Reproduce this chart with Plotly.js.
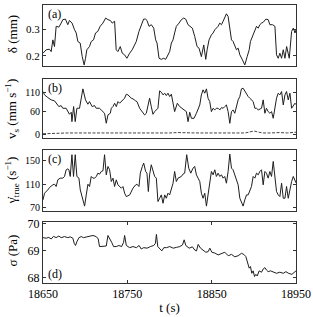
<!DOCTYPE html>
<html>
<head>
<meta charset="utf-8">
<script src="https://cdn.plot.ly/plotly-3.0.1.min.js"></script>
<style>html,body{margin:0;padding:0;background:#fff;}#chart{width:313px;height:317px;}</style>
</head>
<body>
<div id="chart"></div>
<script>
// (a) delta (mm)
const deltaT = [18650,18653.8,18657.7,18659.7,18661.7,18663.6,18665.6,18668.8,18671.5,18673.5,18676.6,18679.4,18681.4,18684.5,18687.4,18689.4,18691.3,18694.1,18696.5,18698.8,18700.4,18702.0,18705.1,18707.2,18709.9,18712.3,18715.0,18717.8,18721.0,18724.3,18727.0,18729.8,18732.1,18734.9,18736.8,18738.8,18741.6,18744.0,18746.7,18749.5,18752.7,18755.8,18758.6,18760.6,18763.8,18766.5,18769.3,18771.7,18773.3,18775.7,18778.5,18781.3,18783.6,18785.2,18787.6,18790.3,18793.1,18795.5,18798.2,18800.2,18802.2,18804.2,18806.1,18808.1,18811.3,18814.1,18816.9,18819.2,18822.0,18824.0,18827.1,18829.9,18832.7,18835.0,18837.8,18840.6,18843.0,18844.6,18846.9,18849.7,18851.7,18853.7,18855.6,18857.6,18859.6,18861.6,18863.6,18865.5,18867.5,18869.5,18871.5,18873.5,18875.4,18877.4,18879.4,18881.4,18883.4,18886.5,18889.3,18892.1,18894.5,18896.0,18898.4,18901.2,18903.2,18905.2,18907.1,18909.1,18911.1,18914.3,18917.0,18919.0,18922.2,18925.0,18926.9,18928.9,18930.9,18932.9,18934.9,18936.9,18938.9,18942.0,18944.8,18946.8,18948.8,18950];
const deltaV = [0.21,0.223,0.225,0.216,0.26,0.235,0.311,0.308,0.323,0.336,0.338,0.317,0.333,0.323,0.298,0.286,0.254,0.248,0.197,0.166,0.191,0.223,0.235,0.254,0.26,0.286,0.292,0.311,0.323,0.342,0.336,0.333,0.323,0.33,0.223,0.216,0.235,0.21,0.204,0.191,0.21,0.223,0.241,0.254,0.292,0.317,0.338,0.338,0.333,0.311,0.317,0.304,0.26,0.248,0.191,0.187,0.191,0.187,0.204,0.216,0.248,0.26,0.286,0.311,0.323,0.336,0.342,0.338,0.317,0.311,0.304,0.273,0.235,0.229,0.197,0.241,0.187,0.223,0.26,0.279,0.286,0.298,0.304,0.311,0.323,0.317,0.33,0.342,0.358,0.348,0.311,0.26,0.254,0.241,0.223,0.229,0.204,0.185,0.166,0.197,0.223,0.254,0.273,0.292,0.311,0.304,0.317,0.323,0.326,0.338,0.336,0.317,0.317,0.311,0.204,0.191,0.21,0.191,0.223,0.191,0.235,0.191,0.292,0.304,0.286,0.298];

// (b) v_s (mm/s)
const vsT = [18650,18651.8,18655.7,18659.7,18663.7,18665.6,18668.8,18671.5,18673.5,18677.4,18679.4,18681.4,18683.5,18684.3,18686.3,18688.2,18690.2,18693.3,18697.3,18700.4,18703.2,18705.1,18708.3,18711.1,18713.1,18717.0,18719.0,18723.0,18725.0,18727.0,18729.8,18731.0,18732.9,18734.9,18736.9,18738.9,18740.8,18742.8,18746.7,18748.8,18750.7,18754.7,18756.7,18759.9,18761.4,18764.6,18768.5,18770.5,18772.5,18774.5,18776.4,18778.4,18780.4,18782.4,18786.3,18788.3,18790.3,18792.3,18794.3,18796.2,18798.2,18800.2,18802.2,18806.1,18809.3,18812.1,18814.9,18818.0,18820.0,18822.0,18824.0,18826.0,18829.1,18831.9,18833.9,18835.9,18837.8,18839.8,18841.8,18843.8,18845.7,18847.7,18849.7,18851.7,18853.7,18855.6,18857.6,18859.6,18861.6,18863.6,18865.5,18867.5,18869.5,18871.5,18873.5,18875.4,18877.4,18879.4,18881.4,18883.4,18885.3,18887.3,18889.3,18891.3,18893.3,18895.2,18899.2,18901.2,18903.2,18905.2,18909.1,18911.1,18913.1,18915.0,18917.0,18919.0,18921.0,18923.0,18924.9,18926.9,18928.9,18930.9,18932.9,18934.9,18936.9,18938.8,18940.8,18942.8,18944.8,18946.8,18948.8,18950];
const vsV = [111.7,103.1,96.2,90.2,87.6,81.6,72.9,75.5,68.6,68.6,60,53.1,58.3,34.1,72.9,34.1,68.6,68.6,118.6,90.2,79,85.9,72.9,75.5,68.6,68.6,64.3,55.7,30,51.4,55.7,68.6,72.9,81.6,72.9,85.9,81.6,85.9,94.5,104.8,103.1,94.5,92.8,87.6,85.9,68.6,58.3,51.4,55.7,72.9,94.5,72.9,53.1,60,68.6,113.4,110,103.1,107.4,101.4,107.4,98.8,104.8,60,81.6,72.9,68.6,64.3,60,34.1,58.3,42.8,42.8,55.7,68.6,77.2,103.1,116,107.4,118.6,94.5,85.9,60,68.6,64.3,68.6,68.6,64.3,70.3,68.6,72.9,77.2,60,29.8,60,64.3,55.7,77.2,90.2,98.8,118.6,120.3,111.7,103.1,98.8,94.5,85.9,68.6,68.6,64.3,68.6,90.2,55.7,68.6,60,55.7,60,42.8,68.6,94.5,107.4,103.1,111.7,77.2,103.1,111.7,90.2,107.4,68.6,77.2,81.6,78];
// (b) dashed near-zero series
const vbT = [18650,18660,18670,18680,18690,18700,18710,18720,18730,18740,18750,18760,18770,18780,18790,18800,18810,18820,18830,18840,18850,18860,18870,18880,18890,18900,18910,18920,18930,18940,18950];
const vbV = [3,4,5,5,5,5,5,4,5,5,5,5,5,5,5,5,6,5,5,5,5,5,6,5,5,10,5,5,6,5,7];

// (c) gamma_true (1/s)
const gamT = [18650,18651.8,18655.7,18657.7,18661.7,18663.7,18665.6,18667.6,18670.4,18673.5,18675.5,18677.5,18679.5,18680.7,18682.3,18684.3,18686.2,18688.2,18690.2,18692.6,18694.2,18696.5,18699.3,18701.3,18703.3,18705.2,18707.2,18709.2,18711.2,18713.2,18715.1,18717.1,18719.1,18721.1,18723.0,18725.0,18727.0,18729.0,18731.0,18733.0,18734.9,18736.9,18738.9,18742.9,18744.8,18746.8,18748.8,18752.8,18754.7,18756.7,18759.9,18761.4,18763.8,18765.4,18767.8,18769.4,18771.7,18773.3,18774.9,18776.4,18778.4,18780.4,18782.4,18784.4,18786.3,18788.3,18790.3,18792.3,18794.3,18796.2,18798.2,18800.2,18802.2,18804.2,18806.1,18808.1,18810.1,18814.1,18816.0,18818.0,18820.4,18822.8,18825.2,18827.9,18829.9,18831.9,18833.9,18835.9,18837.8,18839.8,18841.8,18843.8,18845.7,18847.7,18849.7,18851.7,18853.7,18855.6,18857.6,18859.6,18861.6,18863.6,18865.5,18867.5,18869.5,18871.5,18873.5,18875.4,18877.4,18879.4,18881.4,18883.4,18885.3,18887.3,18889.3,18891.3,18893.3,18895.2,18897.2,18899.2,18901.2,18903.2,18905.2,18907.1,18909.1,18911.1,18913.1,18915.0,18917.0,18919.0,18921.0,18923.0,18924.9,18926.9,18928.9,18930.9,18932.9,18934.9,18936.9,18938.8,18940.8,18942.8,18944.8,18946.8,18948.8,18950];
const gamV = [82.7,94.2,99.9,104,108.6,109.7,105.7,117.2,120.1,120.1,123,134.5,136.2,134.5,123,160.4,123,160.4,123,120.1,99.9,85.5,72,91.3,109.7,105.7,123,120.1,120.1,123,128.7,127,131.6,132.7,160.4,125.8,140.2,134.5,114.3,120.1,105.7,117.2,108.6,102.8,105.7,94.2,88.4,91.3,97.1,102.8,108.6,109.7,105.7,128.7,140.2,146,131.6,128.7,97.1,125.8,143.1,134.5,123,120.1,79.8,85.5,91.3,76.9,91.3,85.5,94.2,91.3,99.9,111.4,131.6,114.3,120.1,123,127,128.7,160.4,137.3,128.7,137.3,140.2,125.8,120.1,114.3,94.2,85.5,94.2,72,91.3,108.6,131.6,125.8,134.5,123,128.7,123,125.8,120.1,123,111.4,131.6,161.5,137.3,134.5,125.8,114.3,108.6,85.5,76.9,72,82.7,91.3,91.3,99.9,105.7,123,120.1,128.7,125.8,131.6,134.5,108.6,131.6,128.7,120.1,131.6,123,148.8,120.1,97.1,91.3,88.4,111.4,85.5,85.5,105.7,85.5,102.8,114.3,123,117.2,112];

// (d) sigma (Pa)
const sigT = [18650,18653.8,18656.9,18659.7,18662.5,18665.5,18668.8,18671.5,18675.5,18679.4,18682.3,18685.4,18687.0,18688.6,18690.2,18692.6,18695.3,18698.1,18702.0,18706.0,18709.2,18713.1,18715.5,18717.0,18721.0,18725.0,18727.0,18729.0,18731.4,18733.7,18736.9,18740.0,18743.2,18745.6,18746.8,18748.8,18752.8,18756.7,18760.7,18763.9,18766.5,18769.4,18773.4,18777.3,18781.3,18783.3,18784.5,18786.1,18788.5,18790.9,18793.3,18796.4,18800.4,18804.4,18808.3,18812.2,18815.4,18817.4,18819.3,18823.3,18827.2,18830.0,18832.0,18834.0,18836.8,18839.9,18843.1,18845.8,18847.8,18850.2,18853.7,18857.7,18861.6,18865.6,18869.6,18873.5,18877.4,18881.4,18885.3,18888.1,18890.5,18893.3,18894.5,18896.0,18897.6,18899.2,18900.8,18902.4,18904.0,18906.3,18909.1,18911.1,18913.1,18915.0,18917.0,18919.8,18923.0,18926.9,18930.9,18934.9,18938.0,18941.2,18945.1,18946.7,18950];
const sigV = [69.48,69.46,69.49,69.43,69.53,69.48,69.54,69.48,69.52,69.48,69.51,69.46,69.27,69.19,69.33,69.48,69.52,69.48,69.51,69.53,69.56,69.52,69.43,69.15,69.15,69.17,69.56,69.46,69.31,69.15,69.15,69.19,69.15,69.31,69.56,69.19,69.11,69.15,69.11,69.19,69.06,69.11,69.09,69.15,69.19,69.27,69.60,69.15,69.06,68.99,69.11,69.11,69.15,69.09,69.12,69.15,69.21,69.40,69.19,69.09,69.14,69.02,68.99,69.23,69.09,69.02,68.94,68.96,69.09,68.94,68.91,68.84,68.89,68.94,68.81,68.86,68.77,68.81,68.90,68.86,68.78,68.53,68.35,68.41,68.16,68.25,68.04,68.12,68.06,68.25,68.20,68.32,68.37,68.28,68.22,68.25,68.20,68.16,68.20,68.16,68.22,68.16,68.12,68.16,68.25];

const xTicks = [18650, 18750, 18850, 18950];
const aTicks = [0.2, 0.3];
const bTicks = [0, 60, 110];
const cTicks = [70, 110, 150];
const dTicks = [68, 69, 70];

const FONT = 'Liberation Serif, Times New Roman, serif';
const LC = '#1e1e1e';
const line = {color: LC, width: 1};

const traces = [
  {x: deltaT, y: deltaV, xaxis: 'x', yaxis: 'y', mode: 'lines', line: line},
  {x: vsT, y: vsV, xaxis: 'x2', yaxis: 'y2', mode: 'lines', line: line},
  {x: vbT, y: vbV, xaxis: 'x2', yaxis: 'y2', mode: 'lines', line: {color: '#444', width: 1, dash: '3px,1.5px'}},
  {x: gamT, y: gamV, xaxis: 'x3', yaxis: 'y3', mode: 'lines', line: line},
  {x: sigT, y: sigV, xaxis: 'x4', yaxis: 'y4', mode: 'lines', line: line}
];

function xa(anchor, last) {
  return {
    anchor: anchor, domain: [0, 1], range: [18650, 18950],
    showline: true, linecolor: '#333', linewidth: 1, mirror: last ? 'ticks' : true,
    showgrid: false, zeroline: false,
    ticks: last ? 'inside' : '', ticklen: 3, tickcolor: '#333',
    tickvals: xTicks, ticktext: xTicks.map(String),
    showticklabels: !!last,
    tickfont: {family: FONT, size: 12, color: '#000'}
  };
}
function ya(anchor, dom, rng, tv, fs) {
  return {
    anchor: anchor, domain: dom, range: rng,
    showline: true, linecolor: '#333', linewidth: 1, mirror: 'ticks',
    showgrid: false, zeroline: false,
    ticks: 'inside', ticklen: 3, tickcolor: '#333',
    tickvals: tv, ticktext: tv.map(String),
    tickfont: {family: FONT, size: fs, color: '#000'}
  };
}

const TX = -31 / 253;
function ytitle(text, y) {
  return {text: text, xref: 'paper', yref: 'paper', x: TX, y: y, xanchor: 'center', yanchor: 'middle',
          textangle: -90, showarrow: false, font: {family: FONT, size: 13, color: '#000'}};
}
function plabel(text, ax, y, ya_) {
  return {text: text, xref: 'x' + ax + ' domain', yref: 'y' + ax + ' domain', x: 0.012, y: y,
          xanchor: 'left', yanchor: ya_, showarrow: false, font: {family: FONT, size: 12, color: '#000'}};
}

const layout = {
  width: 313, height: 317,
  margin: {l: 43, r: 17, t: 5, b: 34},
  paper_bgcolor: '#fff', plot_bgcolor: '#fff',
  showlegend: false,
  font: {family: FONT, color: '#000'},
  xaxis: xa('y', false),
  xaxis2: xa('y2', false),
  xaxis3: xa('y3', false),
  xaxis4: Object.assign(xa('y4', true), {title: {text: 't (s)', font: {family: FONT, size: 13}, standoff: 2}}),
  yaxis: ya('x', [0.7806, 1], [0.162, 0.391], aTicks, 11),
  yaxis2: ya('x2', [0.5216, 0.7338], [-8, 144], bTicks, 10),
  yaxis3: ya('x3', [0.259, 0.4784], [63.6, 168.5], cTicks, 10),
  yaxis4: ya('x4', [0, 0.2194], [67.8, 70.06], dTicks, 12),
  annotations: [
    ytitle('δ (mm)', 0.895),
    ytitle('v<sub>s</sub> (mm s<sup>−1</sup>)', 0.626),
    ytitle('γ̇<sub>true</sub> (s<sup>−1</sup>)', 0.37),
    ytitle('σ (Pa)', 0.117),
    plabel('(a)', '', 1.0, 'top'),
    plabel('(b)', '2', 1.0, 'top'),
    plabel('(c)', '3', 1.0, 'top'),
    plabel('(d)', '4', 0.0, 'bottom')
  ]
};

Plotly.newPlot('chart', traces, layout, {staticPlot: true, displayModeBar: false});
</script>
</body>
</html>
